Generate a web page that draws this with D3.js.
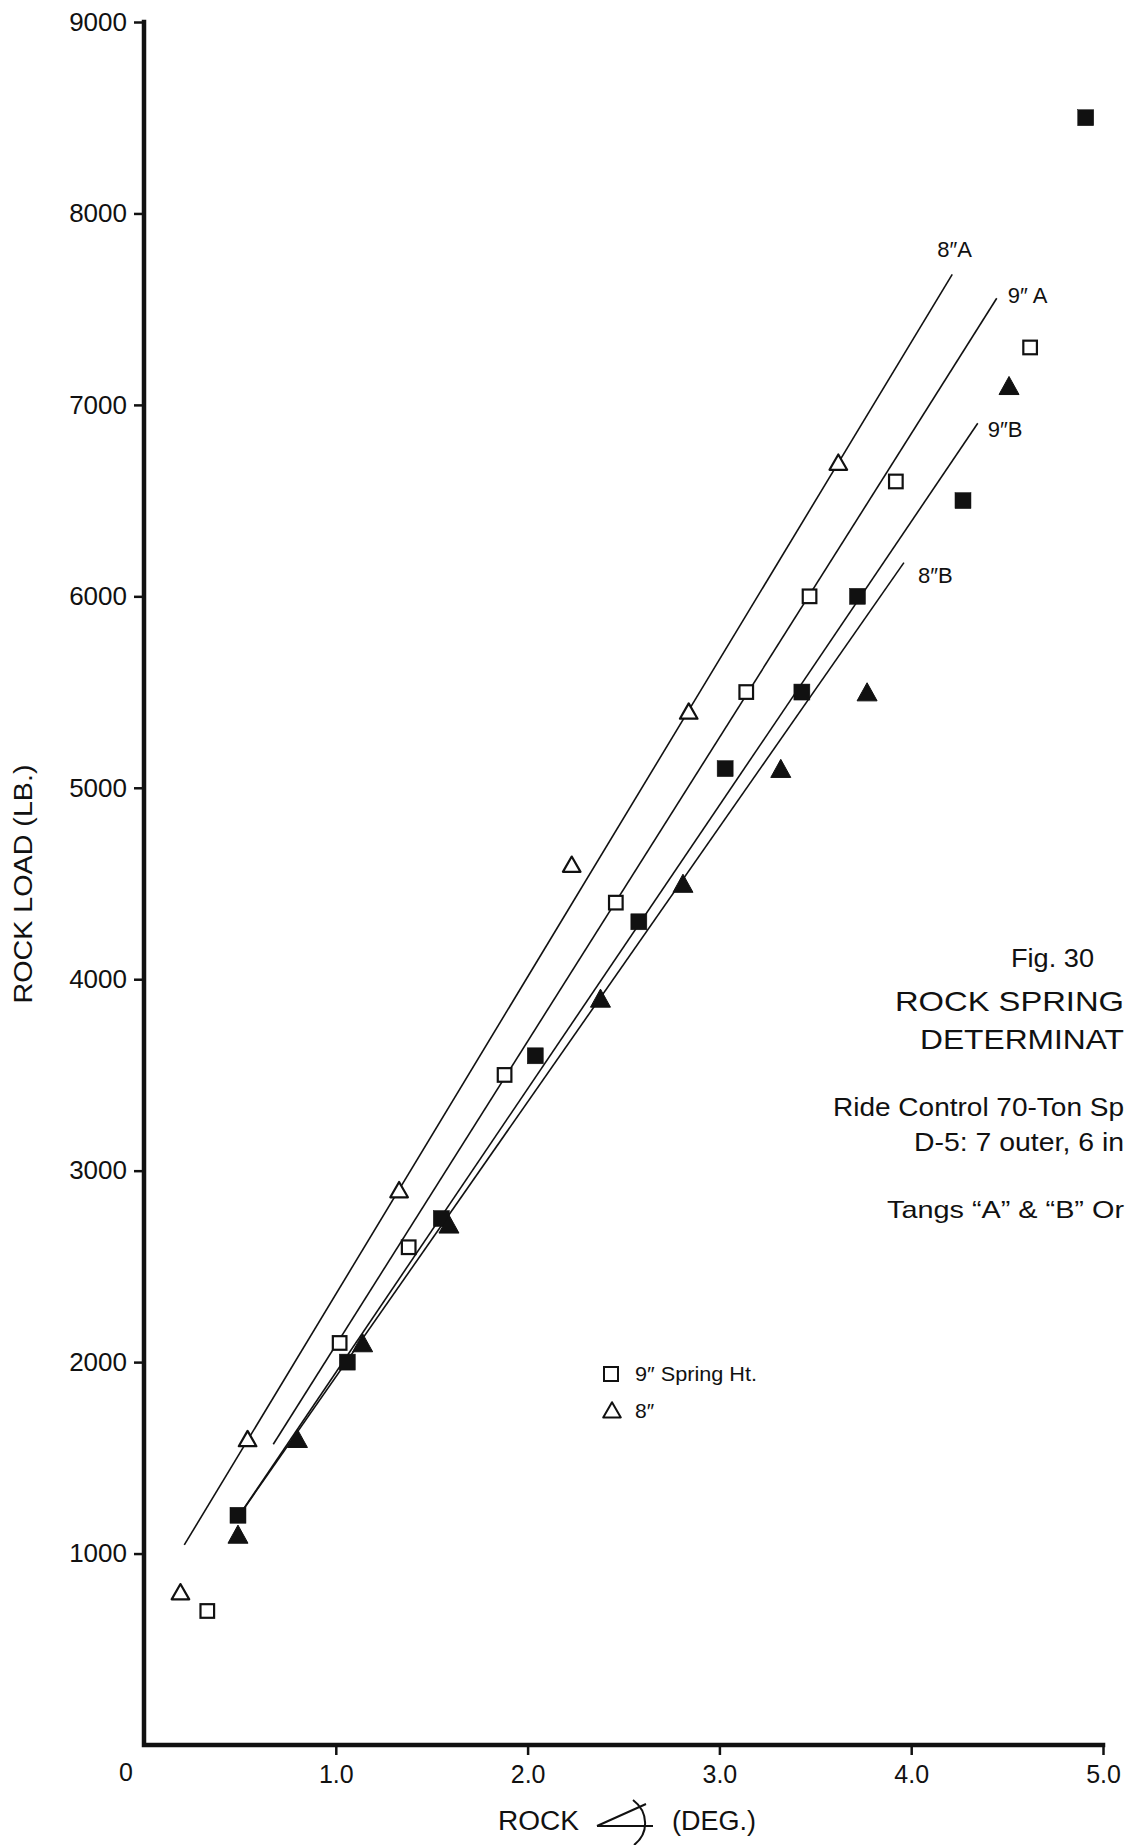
<!DOCTYPE html>
<html>
<head>
<meta charset="utf-8">
<script src="https://cdn.jsdelivr.net/npm/d3@7"></script>
<style>
  html, body { margin: 0; padding: 0; background: #fff; }
  svg { display: block; }
  text { font-family: "Liberation Sans", Arial, Helvetica, sans-serif; fill: #111; }
</style>
</head>
<body>
<svg id="chart" width="1126" height="1845"></svg>
<script>
// Axis ticks
const xTicks = [1, 2, 3, 4, 5];
const yTicks = [1000, 2000, 3000, 4000, 5000, 6000, 7000, 8000, 9000];

// 9" spring height, tang A (open squares)
const sq9AX = [0.33, 1.02, 1.38, 1.88, 2.46, 3.14, 3.47, 3.92, 4.62];
const sq9AY = [700, 2100, 2600, 3500, 4400, 5500, 6000, 6600, 7300];

// 8" spring height, tang A (open triangles)
const tri8AX = [0.19, 0.54, 1.33, 2.23, 2.84, 3.62];
const tri8AY = [800, 1600, 2900, 4600, 5400, 6700];

// 9" spring height, tang B (filled squares)
const sq9BX = [0.49, 1.06, 1.55, 2.04, 2.58, 3.03, 3.43, 3.72, 4.27, 4.91];
const sq9BY = [1200, 2000, 2750, 3600, 4300, 5100, 5500, 6000, 6500, 8500];

// 8" spring height, tang B (filled triangles)
const tri8BX = [0.49, 0.80, 1.14, 1.59, 2.38, 2.81, 3.32, 3.77, 4.51];
const tri8BY = [1100, 1600, 2100, 2720, 3900, 4500, 5100, 5500, 7100];

// Fitted rate lines: start and end points [deg, lb]
const fitNames = ["8\u2033A", "9\u2033 A", "9\u2033B", "8\u2033B"];
const fitStart = [[0.21, 1045], [0.674, 1571], [0.49, 1190], [0.49, 1190]];
const fitEnd   = [[4.214, 7682], [4.446, 7557], [4.347, 6904], [3.962, 6176]];

const svg = d3.select("#chart");
const x = d3.scaleLinear().domain([0, 5]).range([144, 1103]);
const y = d3.scaleLinear().domain([0, 9000]).range([1745, 22]);

// ---- axes ----
const yAxis = svg.append("g")
  .attr("transform", `translate(${x(0)},0)`)
  .call(d3.axisLeft(y).tickValues(yTicks).tickSize(10).tickPadding(7).tickFormat(d3.format("d")));
yAxis.select(".domain").remove();
yAxis.selectAll(".tick line").attr("stroke", "#111").attr("stroke-width", 2.5);
yAxis.selectAll(".tick text").style("font-size", "26px").attr("fill", "#111");

const xAxis = svg.append("g")
  .attr("transform", `translate(0,${y(0)})`)
  .call(d3.axisBottom(x).tickValues(xTicks).tickSize(10).tickPadding(10).tickFormat(d3.format(".1f")));
xAxis.select(".domain").remove();
xAxis.selectAll(".tick line").attr("stroke", "#111").attr("stroke-width", 2.5);
xAxis.selectAll(".tick text").style("font-size", "25px").attr("fill", "#111");

// heavy axis frame lines
svg.append("path")
  .attr("d", `M${x(0)},${y(9000)} L${x(0)},${y(0)} L${x(5)},${y(0)}`)
  .attr("fill", "none").attr("stroke", "#111").attr("stroke-width", 4.5)
  .attr("stroke-linecap", "square");

// origin label
svg.append("text").attr("x", x(0) - 18).attr("y", y(0) + 36)
  .attr("text-anchor", "middle").style("font-size", "25px").text("0");

// axis titles
svg.append("text")
  .attr("transform", `translate(32,884) rotate(-90)`)
  .attr("text-anchor", "middle")
  .attr("textLength", 239).attr("lengthAdjust", "spacingAndGlyphs")
  .style("font-size", "26px").text("ROCK LOAD (LB.)");

svg.append("text").attr("x", 498).attr("y", 1830)
  .attr("textLength", 81).attr("lengthAdjust", "spacingAndGlyphs")
  .style("font-size", "27px").text("ROCK");
// angle glyph between the words
const ang = svg.append("g").attr("fill", "none").attr("stroke", "#111").attr("stroke-width", 2);
ang.append("path").attr("d", "M597,1826 L653,1826 M597,1826 L646,1804");
ang.append("path").attr("d", "M633,1800 C649,1812 649,1834 634,1845");
svg.append("text").attr("x", 672).attr("y", 1830).style("font-size", "27px").text("(DEG.)");

// ---- fitted lines ----
const line = d3.line().x(d => x(d[0])).y(d => y(d[1]));
fitNames.forEach((name, i) => {
  svg.append("path")
    .attr("d", line([fitStart[i], fitEnd[i]]))
    .attr("fill", "none").attr("stroke", "#111").attr("stroke-width", 1.6);
});

// line labels, placed just beyond each line's upper end
const labelOffsets = [[-15, -17], [11, 5], [10, 14], [14, 20]];
fitNames.forEach((name, i) => {
  svg.append("text")
    .attr("x", x(fitEnd[i][0]) + labelOffsets[i][0])
    .attr("y", y(fitEnd[i][1]) + labelOffsets[i][1])
    .style("font-size", "22px").text(name);
});

// ---- markers ----
const triOpen = "M0,-7.8 L8.8,7.5 L-8.8,7.5 Z";
const triFill = "M0,-9.3 L10,8.8 L-10,8.8 Z";

function plotSquares(xs, ys, filled) {
  svg.append("g").selectAll("rect").data(xs.map((d, i) => [d, ys[i]])).join("rect")
    .attr("x", d => x(d[0]) - (filled ? 8 : 6.8))
    .attr("y", d => y(d[1]) - (filled ? 8 : 6.8))
    .attr("width", filled ? 16 : 13.6).attr("height", filled ? 16 : 13.6)
    .attr("fill", filled ? "#111" : "#fff")
    .attr("stroke", "#111").attr("stroke-width", filled ? 0.5 : 2.2);
}
function plotTriangles(xs, ys, filled) {
  svg.append("g").selectAll("path").data(xs.map((d, i) => [d, ys[i]])).join("path")
    .attr("transform", d => `translate(${x(d[0])},${y(d[1])})`)
    .attr("d", filled ? triFill : triOpen)
    .attr("fill", filled ? "#111" : "#fff")
    .attr("stroke", "#111").attr("stroke-width", filled ? 1 : 2.2)
    .attr("stroke-linejoin", "round");
}
plotSquares(sq9AX, sq9AY, false);
plotTriangles(tri8AX, tri8AY, false);
plotSquares(sq9BX, sq9BY, true);
plotTriangles(tri8BX, tri8BY, true);

// ---- legend ----
const lg = svg.append("g");
lg.append("rect").attr("x", 604).attr("y", 1367).attr("width", 14).attr("height", 14)
  .attr("fill", "#fff").attr("stroke", "#111").attr("stroke-width", 2);
lg.append("text").attr("x", 635).attr("y", 1381)
  .attr("textLength", 122).attr("lengthAdjust", "spacingAndGlyphs")
  .style("font-size", "21px").text("9\u2033  Spring Ht.");
lg.append("path").attr("transform", "translate(612,1410)").attr("d", triOpen)
  .attr("fill", "#fff").attr("stroke", "#111").attr("stroke-width", 2).attr("stroke-linejoin", "round");
lg.append("text").attr("x", 635).attr("y", 1418).style("font-size", "21px").text("8\u2033");

// ---- figure caption block (runs off the right edge of the sheet) ----
const cap = [
  { t: "Fig. 30", x: 1011, y: 967, s: 25, w: 83 },
  { t: "ROCK SPRING", x: 895, y: 1011, s: 28, w: 229 },
  { t: "DETERMINAT", x: 920, y: 1049, s: 28, w: 204 },
  { t: "Ride Control 70-Ton Sp", x: 833, y: 1116, s: 25, w: 291 },
  { t: "D-5: 7 outer, 6 in", x: 914, y: 1151, s: 25, w: 210 },
  { t: "Tangs \u201CA\u201D & \u201CB\u201D Or", x: 887, y: 1218, s: 24, w: 237 }
];
cap.forEach(c => {
  svg.append("text")
    .attr("x", c.x).attr("y", c.y)
    .attr("textLength", c.w).attr("lengthAdjust", "spacingAndGlyphs")
    .style("font-size", c.s + "px").text(c.t);
});
</script>
</body>
</html>
